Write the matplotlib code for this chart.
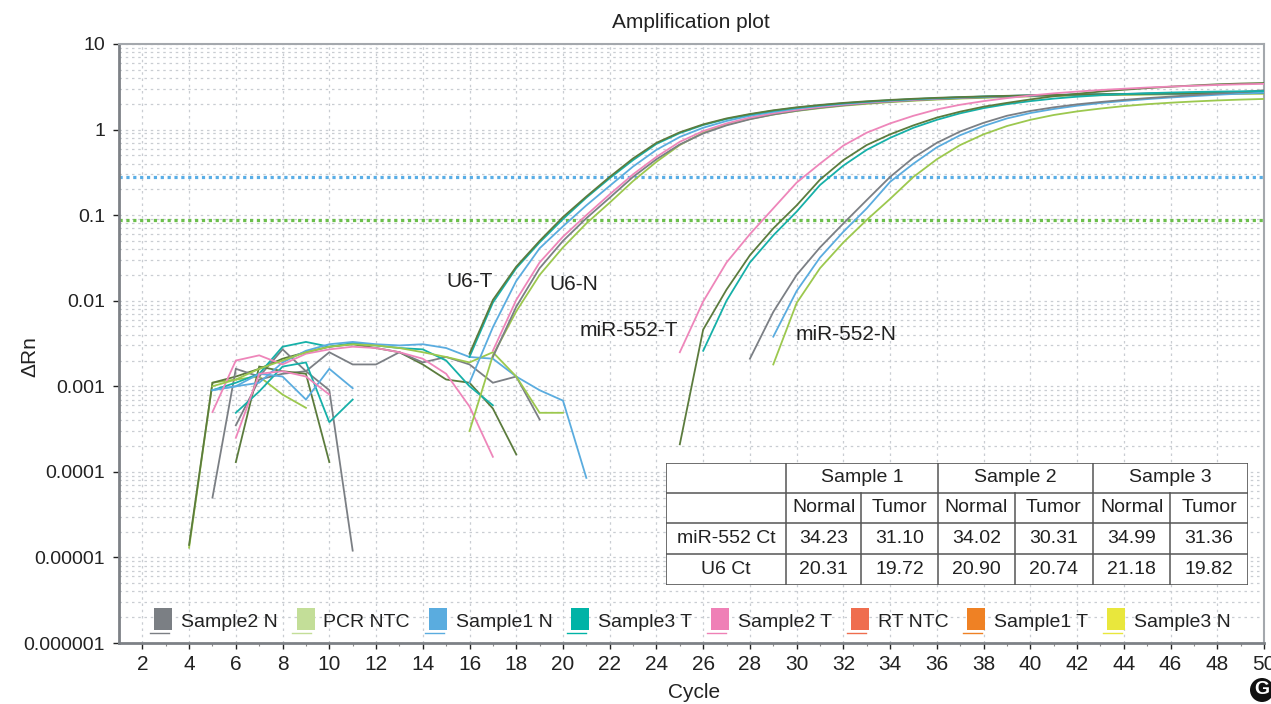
import numpy as np
import matplotlib
matplotlib.use("Agg")
import matplotlib.pyplot as plt
from matplotlib.patches import Rectangle, Patch
from matplotlib.lines import Line2D
from matplotlib.legend_handler import HandlerBase
from matplotlib.ticker import FixedLocator, FixedFormatter, NullFormatter

REGULAR = ['Liberation Sans', 'DejaVu Sans']
plt.rcParams['font.family'] = REGULAR

# ---------------------------------------------------------------- data
# amplification phase: (first cycle, delta Rn for each following cycle)
u6_s1_tumor = (16, [0.0024, 0.0102, 0.025, 0.05, 0.095, 0.165, 0.28, 0.46, 0.70, 0.93, 1.15, 1.35,
                    1.52, 1.68, 1.82, 1.94, 2.05, 2.14, 2.22, 2.29, 2.35, 2.40, 2.44, 2.48, 2.51,
                    2.54, 2.56, 2.58, 2.60, 2.62, 2.64, 2.66, 2.68, 2.69, 2.70])
u6_s3_tumor = (16, [0.0022, 0.0095, 0.024, 0.048, 0.09, 0.16, 0.27, 0.44, 0.68, 0.91, 1.13, 1.33,
                    1.50, 1.66, 1.80, 1.92, 2.03, 2.12, 2.20, 2.27, 2.33, 2.38, 2.43, 2.47, 2.50,
                    2.53, 2.56, 2.58, 2.60, 2.62, 2.64, 2.65, 2.66, 2.67, 2.68])
u6_s1_normal = (16, [0.0011, 0.0049, 0.017, 0.041, 0.074, 0.13, 0.22, 0.37, 0.58, 0.82, 1.05, 1.26,
                     1.45, 1.61, 1.76, 1.89, 2.00, 2.10, 2.18, 2.26, 2.32, 2.38, 2.43, 2.47, 2.51,
                     2.54, 2.57, 2.59, 2.61, 2.63, 2.65, 2.66, 2.67, 2.68, 2.69])
u6_s2_tumor = (17, [0.0026, 0.0102, 0.028, 0.056, 0.10, 0.175, 0.30, 0.48, 0.72, 0.96, 1.18, 1.38,
                    1.55, 1.70, 1.84, 1.96, 2.06, 2.15, 2.23, 2.30, 2.36, 2.41, 2.46, 2.50, 2.53,
                    2.56, 2.59, 2.61, 2.63, 2.65, 2.66, 2.67, 2.68, 2.69])
u6_s2_normal = (17, [0.0022, 0.0085, 0.024, 0.05, 0.092, 0.16, 0.28, 0.45, 0.67, 0.90, 1.12, 1.32,
                     1.50, 1.66, 1.80, 1.92, 2.03, 2.12, 2.20, 2.27, 2.33, 2.38, 2.43, 2.47, 2.50,
                     2.53, 2.56, 2.58, 2.60, 2.62, 2.64, 2.65, 2.66, 2.67])
u6_s3_normal = (16, [0.0003, 0.0023, 0.0075, 0.02, 0.042, 0.08, 0.14, 0.25, 0.42, 0.66, 0.92, 1.14,
                     1.33, 1.50, 1.65, 1.78, 1.90, 2.00, 2.09, 2.17, 2.24, 2.30, 2.35, 2.40, 2.44,
                     2.47, 2.50, 2.52, 2.54, 2.56, 2.58, 2.59, 2.60, 2.61, 2.62])

mir_s2_tumor = (25, [0.0025, 0.0098, 0.028, 0.06, 0.12, 0.24, 0.40, 0.65, 0.92, 1.18, 1.45, 1.72,
                     1.95, 2.15, 2.33, 2.50, 2.65, 2.78, 2.90, 3.00, 3.10, 3.18, 3.25, 3.32, 3.38, 3.42])
mir_s1_tumor = (25, [0.00021, 0.0046, 0.0135, 0.034, 0.07, 0.13, 0.26, 0.44, 0.66, 0.88, 1.12, 1.38,
                     1.62, 1.85, 2.05, 2.25, 2.45, 2.62, 2.78, 2.92, 3.05, 3.17, 3.28, 3.38, 3.45, 3.50])
mir_s3_tumor = (26, [0.0026, 0.010, 0.028, 0.058, 0.11, 0.225, 0.38, 0.58, 0.80, 1.05, 1.30, 1.55,
                     1.78, 1.98, 2.15, 2.30, 2.42, 2.52, 2.60, 2.66, 2.71, 2.75, 2.78, 2.80, 2.82])
mir_s2_normal = (28, [0.0021, 0.0074, 0.02, 0.042, 0.08, 0.15, 0.28, 0.47, 0.70, 0.95, 1.20, 1.45,
                      1.65, 1.82, 1.97, 2.10, 2.22, 2.33, 2.43, 2.53, 2.63, 2.75, 2.88])
mir_s1_normal = (29, [0.0038, 0.013, 0.032, 0.064, 0.12, 0.245, 0.40, 0.62, 0.86, 1.10, 1.35, 1.56,
                      1.74, 1.90, 2.04, 2.16, 2.27, 2.37, 2.46, 2.55, 2.63, 2.70])
mir_s3_normal = (29, [0.0018, 0.0094, 0.024, 0.048, 0.088, 0.155, 0.28, 0.45, 0.66, 0.88, 1.10, 1.30,
                      1.48, 1.63, 1.76, 1.88, 1.98, 2.06, 2.13, 2.19, 2.24, 2.28])

# early-cycle background signal (positive values only)
bg_pcr_ntc = (4, [1.3e-5, 0.0011, 0.0012, 0.0013, 0.0008, 0.00056])
bg_s1t_a = (4, [1.4e-5, 0.0011, 0.0013, 0.0016, 0.0021, 0.0025, 0.0029, 0.0031, 0.0028, 0.0025,
                0.0018, 0.0012, 0.0011, 0.00055, 0.00016])
bg_s2n_a = (5, [5e-5, 0.0016, 0.0013, 0.0027, 0.0015, 0.0009, 1.2e-5])
bg_s2n_b = (6, [0.00035, 0.0012, 0.0014, 0.0015, 0.0025, 0.0018, 0.0018, 0.0025, 0.0019, 0.0022,
                0.0018, 0.0011, 0.0013, 0.00041])
bg_s1t_b = (6, [0.00013, 0.0017, 0.0015, 0.0014, 0.00013])
bg_s3t_a = (5, [0.0009, 0.0011, 0.0014, 0.0029, 0.0033, 0.0029, 0.0032, 0.0030, 0.0028, 0.0027,
                0.0020, 0.0010, 0.0006])
bg_s3t_b = (6, [0.00049, 0.00087, 0.0017, 0.0019, 0.00038, 0.0007])
bg_s1n_a = (5, [0.0009, 0.0010, 0.0011, 0.0019, 0.0026, 0.0031, 0.0033, 0.0031, 0.0030, 0.0031,
                0.0028, 0.0022, 0.0021, 0.0013, 0.0009, 0.00068, 8.5e-5])
bg_s1n_b = (5, [0.0009, 0.0010, 0.0014, 0.0013, 0.0007, 0.0016, 0.00095])
bg_s2t_a = (5, [0.0005, 0.0020, 0.0023, 0.0018, 0.0024, 0.0027, 0.0029, 0.0028, 0.0025, 0.0021,
                0.0014, 0.00058, 0.00015])
bg_s2t_b = (6, [0.00025, 0.0014, 0.0015, 0.0013, 0.0008])
bg_s3n_a = (5, [0.0010, 0.0012, 0.0016, 0.0020, 0.0025, 0.0029, 0.0031, 0.0030, 0.0028, 0.0025,
                0.0022, 0.0019, 0.0025, 0.0013, 0.00049, 0.00049])

thresholds = {"miR-552": 0.277, "U6": 0.088}

legend_names = ["Sample2 N", "PCR NTC", "Sample1 N", "Sample3 T",
                "Sample2 T", "RT NTC", "Sample1 T", "Sample3 N"]
legend_colors = ["#7b7f84", "#c3de98", "#5aacdf", "#00b3a6",
                 "#ef80b6", "#ef6d4e", "#ef8124", "#e9e73c"]

table_samples = ["Sample 1", "Sample 2", "Sample 3"]
table_groups = ["Normal", "Tumor"] * 3
table_rows = ["miR-552 Ct", "U6 Ct"]
mir552_ct = ["34.23", "31.10", "34.02", "30.31", "34.99", "31.36"]
u6_ct = ["20.31", "19.72", "20.90", "20.74", "21.18", "19.82"]

curve_labels = [("U6-T", 16.0, 0.0166), ("U6-N", 20.45, 0.0153),
                ("miR-552-T", 22.8, 0.0045), ("miR-552-N", 32.1, 0.0040)]

# ---------------------------------------------------------------- styles
GRAY = "#7b7f84"
GREEN = "#9cc84e"
BLUE = "#5aacdf"
TEAL = "#16b0a8"
PINK = "#ee86ba"
OLIVE = "#5b7b3d"

background = [(bg_pcr_ntc, GREEN), (bg_s1t_a, OLIVE), (bg_s2n_a, GRAY), (bg_s2n_b, GRAY),
              (bg_s1t_b, OLIVE), (bg_s3t_a, TEAL), (bg_s3t_b, TEAL), (bg_s1n_a, BLUE),
              (bg_s1n_b, BLUE), (bg_s2t_a, PINK), (bg_s2t_b, PINK), (bg_s3n_a, GREEN)]
amplification = [(u6_s3_normal, GREEN), (u6_s2_normal, GRAY), (u6_s2_tumor, PINK),
                 (u6_s1_normal, BLUE), (u6_s3_tumor, TEAL), (u6_s1_tumor, OLIVE),
                 (mir_s3_normal, GREEN), (mir_s1_normal, BLUE), (mir_s2_normal, GRAY),
                 (mir_s3_tumor, TEAL), (mir_s1_tumor, OLIVE), (mir_s2_tumor, PINK)]

fig = plt.figure(figsize=(12.71, 7.04), dpi=100)
ax = fig.add_axes([119 / 1271, 1 - 643 / 704, (1264 - 119) / 1271, (643 - 44) / 704])

for (start, vals), col in background + amplification:
    x = np.arange(start, start + len(vals))
    ax.plot(x, vals, color=col, lw=1.3, solid_joinstyle="miter", zorder=3)

ax.axhline(thresholds["miR-552"], color="#5aaee6", lw=2.3, ls=(0, (1, 1.15)), zorder=2)
ax.axhline(thresholds["U6"], color="#6cbf4c", lw=2.3, ls=(0, (1, 1.15)), zorder=2)

ax.set_yscale("log")
ax.set_ylim(1e-6, 10)
ax.set_xlim(1, 50)

ax.xaxis.set_major_locator(FixedLocator(np.arange(2, 51, 2)))
ax.xaxis.set_minor_locator(FixedLocator(np.arange(3, 50, 2)))
ax.yaxis.set_major_locator(FixedLocator([1e-6, 1e-5, 1e-4, 1e-3, 1e-2, 1e-1, 1, 10]))
ax.yaxis.set_major_formatter(FixedFormatter(["0.000001", "0.00001", "0.0001", "0.001",
                                             "0.01", "0.1", "1", "10"]))
ax.yaxis.set_minor_formatter(NullFormatter())
ax.tick_params(axis="both", which="major", labelsize=15, colors="#222222", length=4,
               width=1, direction="out")
ax.tick_params(axis="y", which="major", labelsize=14, pad=6)
ax.tick_params(axis="x", which="major", pad=5)
ax.tick_params(axis="both", which="minor", length=2, width=0.8, color="#888888")
ax.tick_params(axis="y", which="minor", length=0)
for t in ax.get_xticklabels() + ax.get_yticklabels():
    t.set_color("#222222")

ax.grid(which="major", axis="x", color="#c9cdd2", lw=0.9, ls=(0, (2, 3)), zorder=0)
ax.grid(which="both", axis="y", color="#c9cdd2", lw=0.9, ls=(0, (2, 3)), zorder=0)

for side in ("left", "bottom"):
    ax.spines[side].set_color("#7d8186")
    ax.spines[side].set_linewidth(2.0)
for side in ("top", "right"):
    ax.spines[side].set_color("#a4a8ad")
    ax.spines[side].set_linewidth(1.5)

for text, cx, cy in curve_labels:
    ax.text(cx, cy, text, fontsize=15, ha="center", va="center", color="#222222", zorder=5)


# legend: colour swatch with a short line sample underneath
class SwatchHandler(HandlerBase):
    def create_artists(self, legend, orig_handle, xdescent, ydescent, width, height,
                       fontsize, trans):
        col = orig_handle.get_facecolor()
        sw = 0.80 * width
        rect = Rectangle((width - sw - xdescent, -ydescent + 0.02 * height), sw, 1.1 * height,
                         facecolor=col, edgecolor="none", transform=trans)
        ln = Line2D([-xdescent, width - 0.15 * width - xdescent],
                    [-ydescent - 0.12 * height] * 2, color=col, lw=1.0, transform=trans)
        return [ln, rect]


handles = [Patch(facecolor=c) for c in legend_colors]
leg = ax.legend(handles, legend_names, handler_map={Patch: SwatchHandler()}, ncol=8,
                loc="lower left", bbox_to_anchor=((146 - 119) / 1145, 0.014),
                frameon=False, fontsize=14, handlelength=1.15, handleheight=1.2,
                handletextpad=0.45, columnspacing=0.75, borderpad=0.2, borderaxespad=0)
for t in leg.get_texts():
    t.set_color("#222222")

# Ct summary table
tax = fig.add_axes([666 / 1271, 1 - 585 / 704, (1248 - 666) / 1271, (585 - 463) / 704], zorder=6)
tax.set_xlim(666, 1248)
tax.set_ylim(585, 463)
tax.axis("off")
tax.add_patch(Rectangle((666, 463), 582, 122, facecolor="white", edgecolor="#555555", lw=1.2))
col_edges = [666, 786, 861, 938, 1015, 1093, 1170, 1248]
row_edges = [463, 493, 523, 554, 585]
lc = "#555555"
for y in row_edges[1:-1]:
    tax.plot([666, 1248], [y, y], color=lc, lw=1.1)
for i, x in enumerate(col_edges[1:-1], start=1):
    y0 = 463 if i % 2 == 1 else 493
    tax.plot([x, x], [y0, 585], color=lc, lw=1.1)
tk = dict(fontsize=14, ha="center", va="center", color="#222222")
for j, s in enumerate(table_samples):
    tax.text((col_edges[1 + 2 * j] + col_edges[3 + 2 * j]) / 2, (row_edges[0] + row_edges[1]) / 2, s, **tk)
for j, g in enumerate(table_groups):
    tax.text((col_edges[1 + j] + col_edges[2 + j]) / 2, (row_edges[1] + row_edges[2]) / 2, g, **tk)
for r, (name, vals) in enumerate(zip(table_rows, [mir552_ct, u6_ct])):
    yc = (row_edges[2 + r] + row_edges[3 + r]) / 2
    tax.text((col_edges[0] + col_edges[1]) / 2, yc, name, **tk)
    for j, v in enumerate(vals):
        tax.text((col_edges[1 + j] + col_edges[2 + j]) / 2, yc, v, **tk)

fig.text(691 / 1271, 1 - 22 / 704, "Amplification plot", fontsize=15, ha="center",
         va="center", color="#222222")
fig.text(694 / 1271, 1 - 692 / 704, "Cycle", fontsize=15, ha="center", va="center",
         color="#222222")
fig.text(30 / 1271, 1 - 357 / 704, "ΔRn", fontsize=15, ha="center", va="center",
         rotation=90, color="#222222")
fig.text(1262 / 1271, 1 - 690 / 704, "G", fontsize=14, fontweight="bold", ha="center",
         va="center", color="white",
         bbox=dict(boxstyle="circle,pad=0.18", facecolor="#111111", edgecolor="none"))

fig.savefig("out.png", dpi=100)
